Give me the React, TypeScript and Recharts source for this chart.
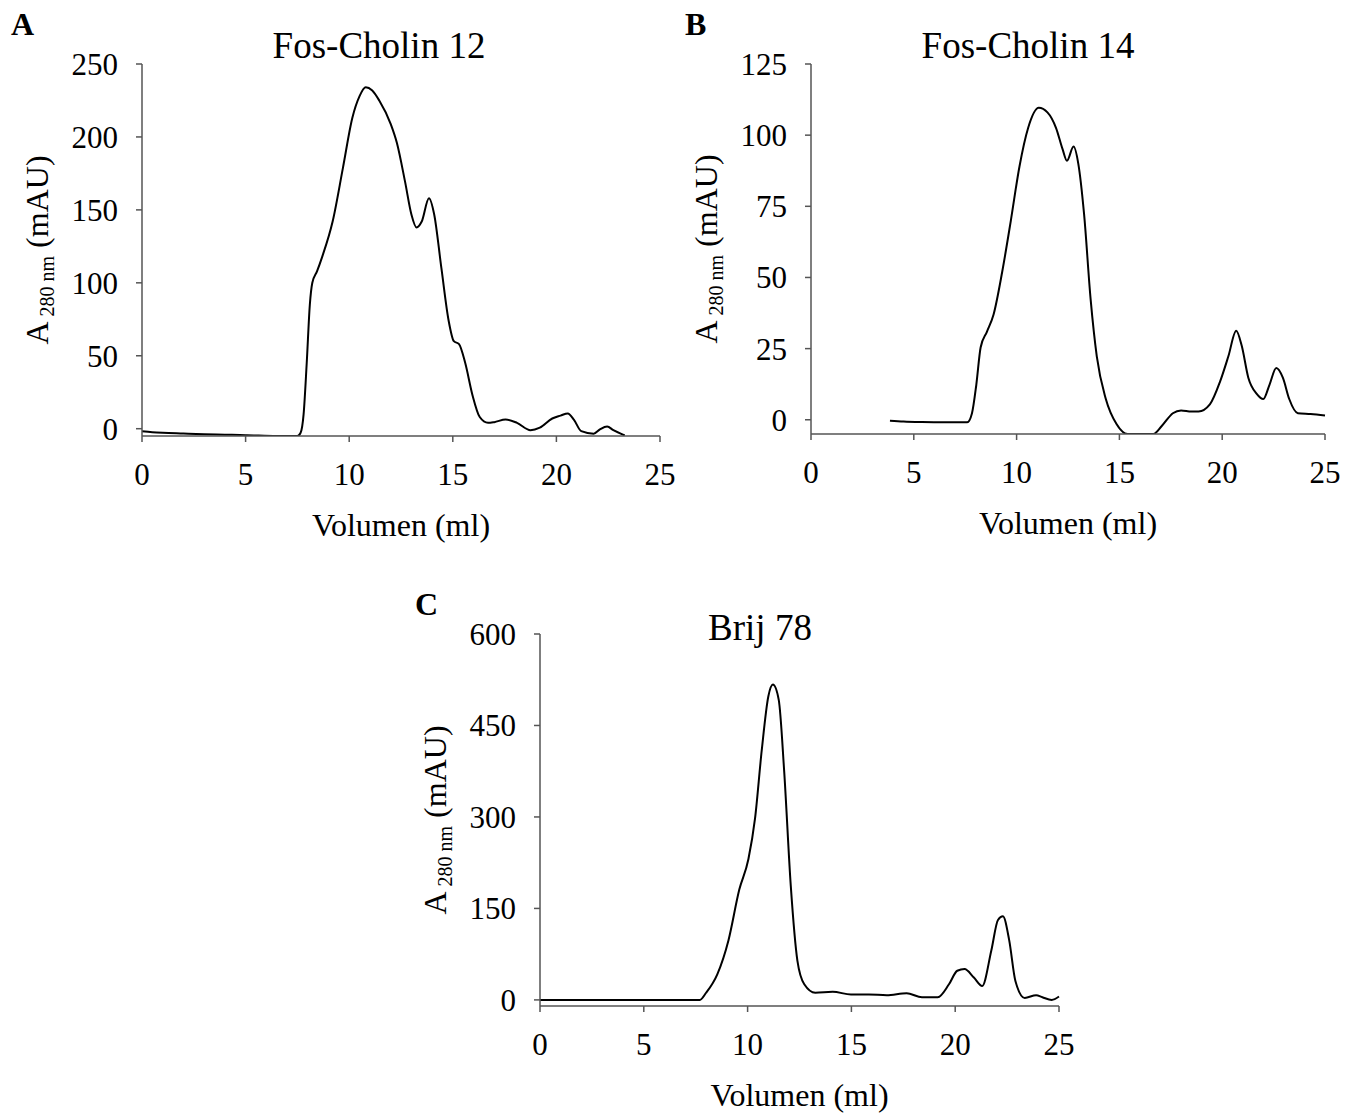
import { LineChart, Line, XAxis, YAxis } from "recharts";

const PAGE_W = 1357;
const PAGE_H = 1113;
const FONT = '"Liberation Serif", "Times New Roman", serif';

const volumeTicks = [0, 5, 10, 15, 20, 25];

// Fos-Cholin 12
const fc12Volume = [
  0, 0.5, 1, 2, 3, 4, 5, 5.4, 6.5, 7.5, 7.65, 7.8, 7.95, 8.1, 8.22, 8.45, 8.7,
  9.2, 9.7, 10.15, 10.5, 10.8, 11.1, 11.45, 12.0, 12.3, 12.7, 13.0, 13.25, 13.5,
  13.85, 14.1, 14.45, 14.8, 15.05, 15.3, 15.6, 15.95, 16.3, 16.7, 17.0, 17.55,
  18.1, 18.75, 19.2, 19.8, 20.2, 20.55, 20.85, 21.2, 21.8, 22.1, 22.45, 22.75,
  23.3,
];
const fc12Abs = [
  -1.8, -2.4, -2.8, -3.3, -3.8, -4.1, -4.4, -4.6, -5, -5, -3, 10, 45, 85, 100,
  108, 118, 142, 179, 213, 228, 234, 232, 225, 209, 196, 169, 147, 138, 142, 158,
  147, 110, 74, 60, 58, 45, 23, 8, 4, 4.5, 6.3, 4, -1, 0.7, 7, 9, 10.5, 6, -1.7,
  -3.4, -0.5, 1.5, -1, -4.6,
];
const fc12Ticks = [0, 50, 100, 150, 200, 250];

// Fos-Cholin 14
const fc14Volume = [
  3.84, 4.5, 5.4, 6.5, 7.6, 7.83, 8.04, 8.25, 8.56, 8.88, 9.3, 9.72, 10.14,
  10.56, 11.08, 11.5, 11.92, 12.24, 12.45, 12.77, 13.0, 13.28, 13.6, 13.9, 14.34,
  14.86, 15.4, 16.0, 16.65, 17.07, 17.6, 18.0, 18.5, 18.85, 19.4, 19.9, 20.3,
  20.68, 20.95, 21.27, 21.68, 22.0, 22.3, 22.63, 22.95, 23.26, 23.68, 24.3, 25,
];
const fc14Abs = [
  -0.3, -0.6, -0.8, -0.9, -0.9, 2.3, 12.3, 25.4, 31, 37, 52, 70, 89, 102.5,
  109.6, 108, 102.5, 95, 91, 96, 90, 72.4, 42.4, 22.3, 7.3, -1.5, -5, -5, -5,
  -2.1, 2.3, 3.3, 2.9, 2.9, 5.4, 13.5, 22.3, 31.3, 26, 14.8, 9.1, 7.3, 12.3,
  18.2, 14.8, 7.3, 2.3, 2, 1.5,
];
const fc14Ticks = [0, 25, 50, 75, 100, 125];

// Brij 78
const brijVolume = [
  0, 2, 4, 6, 7.7, 8.0, 8.54, 9.08, 9.6, 10.04, 10.36, 10.68, 11.0, 11.22, 11.5,
  11.76, 12.08, 12.4, 12.73, 13.26, 14.1, 14.98, 15.84, 16.7, 17.66, 18.4, 19.16,
  19.7, 20.1, 20.45, 20.9, 21.3, 21.74, 22.06, 22.3, 22.6, 22.9, 23.35, 23.9,
  24.2, 24.65, 25,
];
const brijAbs = [
  0, 0, 0, 0, 0, 11.7, 42, 98, 181, 231, 298, 409, 498, 517, 492, 376, 187, 64,
  25.6, 11.7, 13.3, 8.9, 8.9, 7.8, 11, 4.4, 4.4, 25.6, 47.8, 50.5, 36.7, 22.8,
  81, 131, 137, 98, 31, 3.3, 7.8, 4.4, 0, 5.5,
];
const brijTicks = [0, 150, 300, 450, 600];

const toRows = (vol: number[], abs: number[]) =>
  vol.map((v, i) => ({ volume: v, abs: abs[i] }));

interface Box {
  left: number;
  top: number;
  right: number;
  bottom: number;
}

interface PanelProps {
  letter: string;
  letterPos: [number, number];
  title: string;
  titlePos: [number, number];
  volume: number[];
  abs: number[];
  yDomain: [number, number];
  yTicks: number[];
  plot: Box;
}

const AXIS = "#555";

function Panel({
  letter,
  letterPos,
  title,
  titlePos,
  volume,
  abs,
  yDomain,
  yTicks,
  plot,
}: PanelProps) {
  const data = toRows(volume, abs);
  const midY = (plot.top + plot.bottom) / 2;
  const labelX = plot.left - 94;
  return (
    <>
      <div style={{ position: "absolute", left: 0, top: 0 }}>
        <LineChart
          width={PAGE_W}
          height={PAGE_H}
          data={data}
          margin={{
            top: plot.top,
            left: plot.left - 60,
            right: PAGE_W - plot.right,
            bottom: PAGE_H - plot.bottom - 30,
          }}
        >
          <XAxis
            type="number"
            dataKey="volume"
            domain={[0, 25]}
            ticks={volumeTicks}
            height={30}
            stroke={AXIS}
            strokeWidth={1.5}
            tickSize={6}
            tickMargin={21}
            tick={{ fill: "#000", fontSize: 31, fontFamily: FONT }}
          />
          <YAxis
            type="number"
            domain={yDomain}
            ticks={yTicks}
            allowDataOverflow
            width={60}
            stroke={AXIS}
            strokeWidth={1.5}
            tickSize={6}
            tickMargin={18}
            tick={{ fill: "#000", fontSize: 31, fontFamily: FONT }}
          />
          <Line
            type="monotone"
            dataKey="abs"
            stroke="#000"
            strokeWidth={2}
            dot={false}
            isAnimationActive={false}
          />
        </LineChart>
      </div>
      <svg
        width={PAGE_W}
        height={PAGE_H}
        style={{ position: "absolute", left: 0, top: 0, pointerEvents: "none" }}
        fontFamily={FONT}
      >
        <text x={letterPos[0]} y={letterPos[1]} fontSize={32} fontWeight="bold">
          {letter}
        </text>
        <text x={titlePos[0]} y={titlePos[1]} fontSize={37} textAnchor="middle">
          {title}
        </text>
        <text
          x={(plot.left + plot.right) / 2}
          y={plot.bottom + 100}
          fontSize={32}
          textAnchor="middle"
        >
          Volumen (ml)
        </text>
        <text
          transform={`translate(${labelX},${midY}) rotate(-90)`}
          fontSize={32}
          textAnchor="middle"
        >
          A
          <tspan fontSize={20} dy={6}>
            {" 280 nm"}
          </tspan>
          <tspan dy={-6}>{" (mAU)"}</tspan>
        </text>
      </svg>
    </>
  );
}

export default function App() {
  return (
    <div
      style={{
        position: "absolute",
        left: 0,
        top: 0,
        width: PAGE_W,
        height: PAGE_H,
        background: "#fff",
      }}
    >
      <Panel
        letter="A"
        letterPos={[11, 35]}
        title="Fos-Cholin 12"
        titlePos={[379, 58]}
        volume={fc12Volume}
        abs={fc12Abs}
        yDomain={[-5, 250]}
        yTicks={fc12Ticks}
        plot={{ left: 142, top: 64, right: 660, bottom: 436 }}
      />
      <Panel
        letter="B"
        letterPos={[685, 35]}
        title="Fos-Cholin 14"
        titlePos={[1028, 58]}
        volume={fc14Volume}
        abs={fc14Abs}
        yDomain={[-5, 125]}
        yTicks={fc14Ticks}
        plot={{ left: 811, top: 64, right: 1325, bottom: 434 }}
      />
      <Panel
        letter="C"
        letterPos={[415, 615]}
        title="Brij 78"
        titlePos={[760, 640]}
        volume={brijVolume}
        abs={brijAbs}
        yDomain={[-10, 600]}
        yTicks={brijTicks}
        plot={{ left: 540, top: 634, right: 1059, bottom: 1006 }}
      />
    </div>
  );
}
